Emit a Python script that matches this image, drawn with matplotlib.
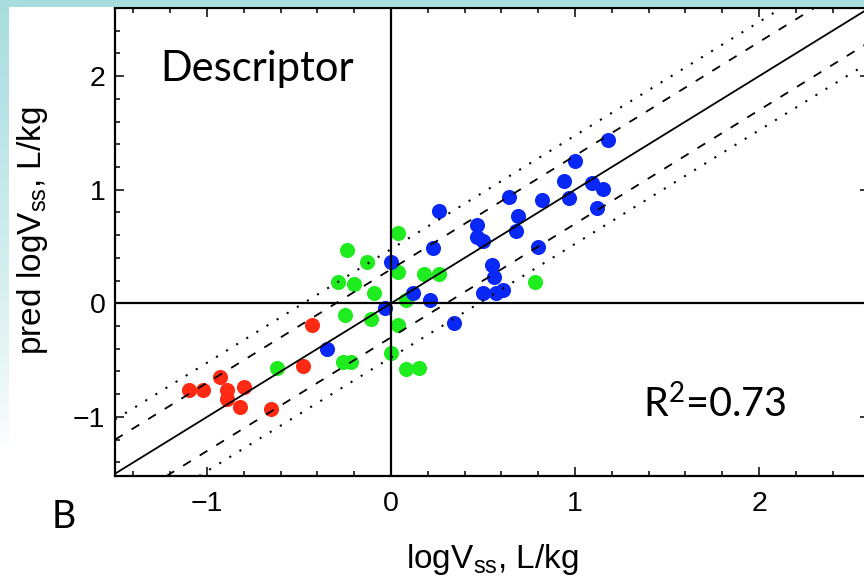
import numpy as np
import matplotlib
matplotlib.use("Agg")
import matplotlib.pyplot as plt
from matplotlib.patches import Rectangle

plt.rcParams['font.family'] = ['Liberation Sans', 'DejaVu Sans']
plt.rcParams['mathtext.default'] = 'regular'

# ---- data ----
red_x = [-1.10, -1.02, -0.93, -0.89, -0.89, -0.80, -0.82, -0.65, -0.48, -0.43]
red_y = [-0.76, -0.76, -0.65, -0.76, -0.84, -0.74, -0.91, -0.93, -0.55, -0.19]

green_x = [-0.24, 0.04, -0.13, 0.04, -0.29, -0.20, -0.09, -0.25, -0.11, 0.04,
           -0.26, -0.22, 0.00, -0.62, 0.18, 0.26, 0.78, 0.08, 0.08, 0.15]
green_y = [0.47, 0.62, 0.36, 0.28, 0.19, 0.17, 0.09, -0.10, -0.14, -0.19,
           -0.52, -0.52, -0.44, -0.57, 0.26, 0.26, 0.19, 0.03, -0.58, -0.57]

blue_x = [0.00, -0.03, -0.35, 0.26, 0.47, 0.69, 0.47, 0.50, 0.23, 0.68,
          0.80, 0.55, 0.56, 0.12, 0.21, 0.50, 0.57, 0.61, 0.34, 1.18,
          1.00, 0.94, 1.09, 1.15, 0.97, 0.82, 0.64, 1.12]
blue_y = [0.36, -0.04, -0.40, 0.81, 0.69, 0.77, 0.58, 0.55, 0.49, 0.64,
          0.50, 0.34, 0.23, 0.09, 0.03, 0.09, 0.09, 0.12, -0.17, 1.44,
          1.25, 1.08, 1.06, 1.01, 0.93, 0.91, 0.94, 0.84]

dashed_offset = 0.30   # 2-fold
dotted_offset = 0.477  # 3-fold
x_ticks = [-1, 0, 1, 2]
y_ticks = [-1, 0, 1, 2]
r2_text = r"R$^{2}$=0.73"
title_text = "Descriptor"
panel_text = "B"

fig = plt.figure(figsize=(8.64, 5.8), dpi=100)
fig.patch.set_facecolor('white')

# slide decoration: top band and left gradient strip
bg_col = '#a8dde0'
fig.patches.append(Rectangle((0, (580 - 7) / 580), 1, 7 / 580, transform=fig.transFigure,
                             facecolor=bg_col, edgecolor='none', zorder=0))
gax = fig.add_axes([0, (580 - 450) / 580, 9 / 864, (450 - 7) / 580])
grad = np.linspace(0, 1, 256).reshape(-1, 1)
top_rgb = np.array([0xa8, 0xdd, 0xe0]) / 255.0
img = np.ones((256, 1, 3))
for k in range(3):
    img[:, 0, k] = 1 - (1 - top_rgb[k]) * grad[:, 0] ** 0.8
gax.imshow(img, aspect='auto', origin='lower', extent=[0, 1, 0, 1])
gax.axis('off')

ax = fig.add_axes([115 / 864, 104 / 580, 754.4 / 864, 468 / 580])
ax.set_xlim(-1.5, 2.6)
ax.set_ylim(-1.52, 2.6)

ms = 118
ax.scatter(green_x, green_y, s=ms, color='#1eec1e', linewidths=0, zorder=2)
ax.scatter(blue_x, blue_y, s=ms, color='#0a28f5', linewidths=0, zorder=2)
ax.scatter(red_x, red_y, s=ms, color='#ff2a14', linewidths=0, zorder=2)

ax.axhline(0, color='black', lw=1.6, zorder=3)
ax.axvline(0, color='black', lw=1.6, zorder=3)
ax.axline((0, 0), slope=1, color='black', lw=1.3, zorder=3)
for sgn in (1, -1):
    ax.axline((0, sgn * dashed_offset), slope=1, color='black', lw=1.3,
              linestyle=(0, (5, 5.8)), zorder=3)
    ax.axline((0, sgn * dotted_offset), slope=1, color='black', lw=1.5,
              linestyle=(0, (1, 4.7)), zorder=3)

ax.set_xticks(x_ticks)
ax.set_yticks(y_ticks)
ax.set_xticks(np.arange(-1.4, 2.61, 0.2), minor=True)
ax.set_yticks(np.arange(-1.4, 2.61, 0.2), minor=True)
ax.tick_params(which='both', direction='in', top=True, right=True, width=1.1, color='black')
ax.tick_params(which='major', length=6.5, labelsize=20.5)
ax.tick_params(which='minor', length=3.6)
ax.tick_params(axis='x', pad=11)
ax.tick_params(axis='y', pad=7)
for sp in ax.spines.values():
    sp.set_linewidth(1.6)

ax.set_xlabel(r"logV$_{ss}$, L/kg", fontsize=24)
ax.set_ylabel(r"pred logV$_{ss}$, L/kg", fontsize=24)
ax.xaxis.label.set_va('baseline')
ax.xaxis.set_label_coords(377 / 754.4, (476 - 568) / 468)
ax.yaxis.label.set_va('baseline')
ax.yaxis.set_label_coords((41 - 115) / 754.4, (476 - 231) / 468)

ax.text((160 - 115) / 754.4, (476 - 81) / 468, title_text, transform=ax.transAxes,
        fontsize=30, family='Lato', ha='left', va='baseline')
ax.text((643 - 115) / 754.4, (476 - 417) / 468, r2_text, transform=ax.transAxes,
        fontsize=28.5, family='Lato', ha='left', va='baseline')
fig.text(52 / 864, (580 - 528) / 580, panel_text, fontsize=27, family='Lato',
         ha='left', va='baseline')

fig.savefig('out.png', dpi=100)
